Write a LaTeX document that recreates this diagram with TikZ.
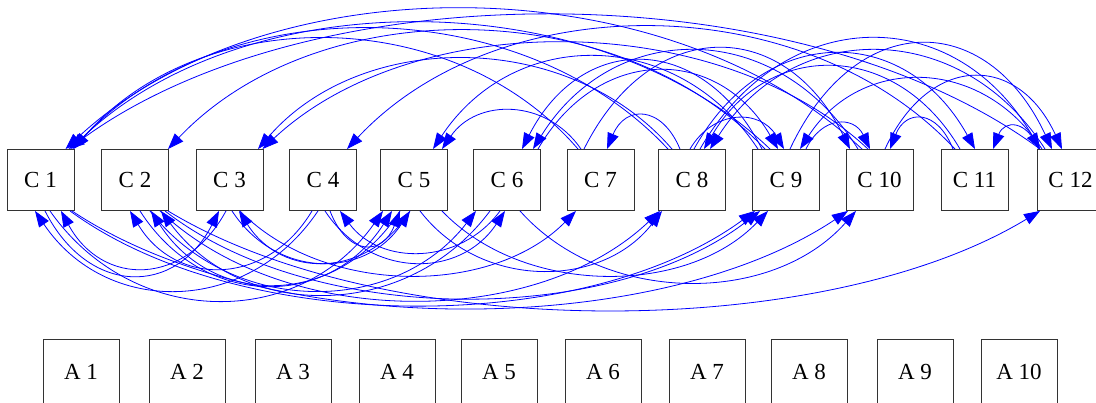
\documentclass[tikz,border=0pt]{standalone}
\usepackage{fontspec}
\setmainfont{Liberation Serif}
\usetikzlibrary{arrows.meta,calc}
\tikzset{
 cbox/.style={draw=black!80,line width=0.9pt,fill=white,minimum width=67pt,minimum height=61pt,inner sep=0pt,font=\fontsize{23}{26}\selectfont},
 abox/.style={cbox,minimum width=76pt,minimum height=66pt},
 link/.style={draw=blue,line width=0.8pt,-{Triangle[length=16pt,width=11.5pt]}},
}
\newcommand\TopArc[5]{%
 \coordinate (s) at ([xshift=#2pt]#1.north);
 \coordinate (t) at ([xshift=#4pt]#3.north);
 \draw[link] (s) .. controls ($(s)!0.25!(t)+(0,{(150-#5)*4/3})$) and ($(t)!0.25!(s)+(0,{(150-#5)*4/3})$) .. (t);}
\newcommand\BotArc[5]{%
 \coordinate (s) at ([xshift=#2pt]#1.south);
 \coordinate (t) at ([xshift=#4pt]#3.south);
 \draw[link] (s) .. controls ($(s)!0.25!(t)+(0,{-(#5-211)*4/3})$) and ($(t)!0.25!(s)+(0,{-(#5-211)*4/3})$) .. (t);}
\begin{document}
\begin{tikzpicture}[x=1pt,y=1pt]
\useasboundingbox (0,0) rectangle (1096,403);
\clip (0,0) rectangle (1096,403);
% C row
\node[cbox] (c1) at (40.5,223) {C 1};
\node[cbox] (c2) at (135,223) {C 2};
\node[cbox] (c3) at (229.5,223) {C 3};
\node[cbox] (c4) at (323,223) {C 4};
\node[cbox] (c5) at (414,223) {C 5};
\node[cbox] (c6) at (507,223) {C 6};
\node[cbox] (c7) at (600.5,223) {C 7};
\node[cbox] (c8) at (692,223) {C 8};
\node[cbox] (c9) at (786,223) {C 9};
\node[cbox] (c10) at (879.5,223) {C 10};
\node[cbox] (c11) at (974.5,223) {C 11};
\node[cbox] (c12) at (1070.5,223) {C 12};
% A row
\node[abox] (a1) at (81,31) {A 1};
\node[abox] (a2) at (187,31) {A 2};
\node[abox] (a3) at (293,31) {A 3};
\node[abox] (a4) at (397,31) {A 4};
\node[abox] (a5) at (499,31) {A 5};
\node[abox] (a6) at (603,31) {A 6};
\node[abox] (a7) at (707,31) {A 7};
\node[abox] (a8) at (809,31) {A 8};
\node[abox] (a9) at (915,31) {A 9};
\node[abox] (a10) at (1019,31) {A 10};
% arcs above
\TopArc{c10}{-17.5}{c1}{25}{10}
\TopArc{c12}{-30.5}{c1}{28}{16}
\TopArc{c9}{-16}{c1}{30}{24}
\TopArc{c8}{-24}{c1}{32}{30}
\TopArc{c7}{-22.5}{c1}{33}{40}
\TopArc{c9}{-21}{c2}{33}{32}
\TopArc{c8}{-20}{c3}{28.5}{60}
\TopArc{c10}{-11.5}{c3}{33}{44}
\TopArc{c11}{-19.5}{c4}{24}{28}
\TopArc{c7}{-19.5}{c5}{28}{112}
\TopArc{c9}{-28}{c5}{19}{58}
\TopArc{c9}{-24}{c6}{15}{62}
\TopArc{c10}{-21.5}{c6}{26}{52}
\TopArc{c8}{-12}{c7}{6.5}{117}
\TopArc{c11}{-14.5}{c8}{12}{68}
\TopArc{c12}{-25.5}{c8}{18}{52}
\TopArc{c6}{31}{c9}{-8}{72}
\TopArc{c8}{-2}{c9}{-2}{120}
\TopArc{c12}{-28.5}{c9}{14}{80}
\TopArc{c7}{-16.5}{c10}{-29.5}{50}
\TopArc{c9}{20}{c10}{-9.5}{125}
\TopArc{c11}{-21.5}{c10}{10.5}{120}
\TopArc{c8}{2}{c11}{0.5}{55}
\TopArc{c12}{-32}{c11}{18.5}{128}
\TopArc{c8}{8}{c12}{-30.5}{40}
\TopArc{c9}{4}{c12}{-18.5}{45}
\TopArc{c10}{5.5}{c12}{-8.5}{78}
% arcs below
\BotArc{c4}{-5}{c1}{-5.5}{290}
\BotArc{c3}{-3.5}{c1}{20.5}{268}
\BotArc{c4}{-11}{c2}{-5}{268}
\BotArc{c5}{-14}{c2}{16}{284}
\BotArc{c6}{-17}{c2}{26}{294}
\BotArc{c1}{4.5}{c3}{-10.5}{275}
\BotArc{c5}{-4}{c3}{9.5}{262}
\BotArc{c6}{-7}{c4}{17}{252}
\BotArc{c1}{9.5}{c5}{-31}{300}
\BotArc{c2}{5}{c5}{-22}{285}
\BotArc{c4}{7}{c5}{-14}{245}
\BotArc{c3}{2.5}{c5}{-4}{262}
\BotArc{c2}{15}{c6}{-31}{290}
\BotArc{c4}{2}{c6}{-2}{262}
\BotArc{c3}{10.5}{c7}{-24.5}{275}
\BotArc{c2}{25}{c8}{-32}{300}
\BotArc{c5}{6}{c8}{-30}{270}
\BotArc{c1}{29.5}{c9}{-31}{305}
\BotArc{c2}{30}{c9}{-26}{298}
\BotArc{c5}{28}{c9}{-18}{275}
\BotArc{c1}{31.5}{c10}{-31.5}{308}
\BotArc{c6}{13}{c10}{-23.5}{282}
\BotArc{c2}{33}{c12}{-30.5}{310}
\end{tikzpicture}
\end{document}
